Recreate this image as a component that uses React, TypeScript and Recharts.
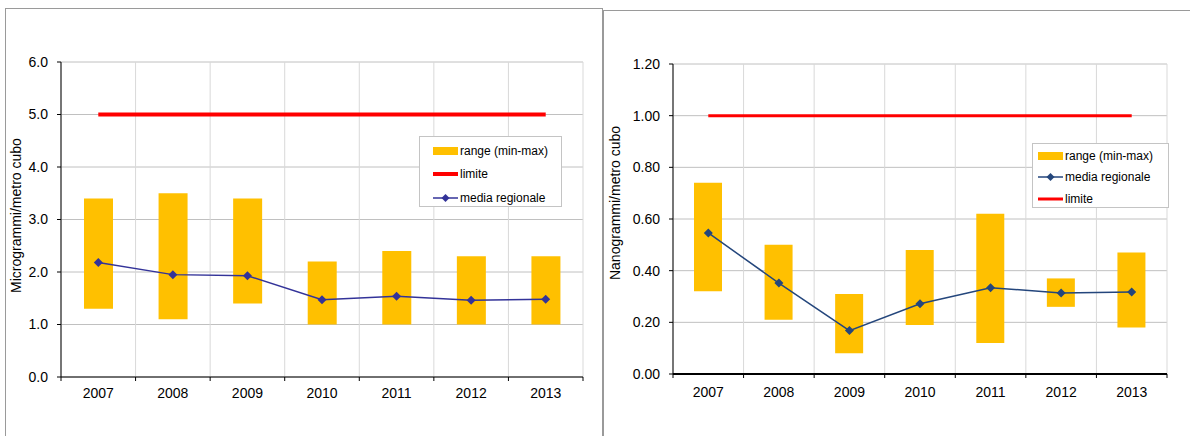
import React from "react";
import { ComposedChart, Bar, Line, XAxis, YAxis, CartesianGrid, Legend } from "recharts";

const years = ["2007", "2008", "2009", "2010", "2011", "2012", "2013"];

// left chart: microgrammi
const microMin = [1.3, 1.1, 1.4, 1.0, 1.0, 1.0, 1.0];
const microMax = [3.4, 3.5, 3.4, 2.2, 2.4, 2.3, 2.3];
const microMedia = [2.18, 1.95, 1.93, 1.47, 1.54, 1.46, 1.48];
const microLimite = 5.0;
const microTicks = [0, 1, 2, 3, 4, 5, 6];

// right chart: nanogrammi
const nanoMin = [0.32, 0.21, 0.08, 0.19, 0.12, 0.26, 0.18];
const nanoMax = [0.74, 0.5, 0.31, 0.48, 0.62, 0.37, 0.47];
const nanoMedia = [0.546, 0.352, 0.168, 0.272, 0.334, 0.314, 0.317];
const nanoLimite = 1.0;
const nanoTicks = [0, 0.2, 0.4, 0.6, 0.8, 1.0, 1.2];

const GOLD = "#FFC000";
const RED = "#FF0000";
const FONT = "'Liberation Sans', Arial, sans-serif";

const buildRows = (min: number[], max: number[], media: number[], limite: number) =>
  years.map((year, i) => ({ year, range: [min[i], max[i]], media: media[i], limite }));

const Diamond = ({ cx, cy, fill, r = 4.5 }: any) =>
  cx == null || cy == null ? null : (
    <polygon points={`${cx},${cy - r} ${cx + r},${cy} ${cx},${cy + r} ${cx - r},${cy}`} fill={fill} />
  );

// category label plus tick marks on the category boundaries (Excel style)
const YearTick = ({ x, y, payload, index, width, margin }: any) => {
  const half = payload.offset ?? width / years.length / 2;
  const axisY = y - margin;
  const left = payload.coordinate - half;
  const right = payload.coordinate + half;
  return (
    <g>
      <line x1={left} x2={left} y1={axisY} y2={axisY + 4} stroke="#000" />
      {index === years.length - 1 && <line x1={right} x2={right} y1={axisY} y2={axisY + 4} stroke="#000" />}
      <text x={x} y={y} dy="0.71em" textAnchor="middle" fontSize={14} fontFamily={FONT} fill="#000">
        {payload.value}
      </text>
    </g>
  );
};

const Swatch = ({ kind, color, thick }: any) => (
  <svg width={26} height={12} style={{ display: "block", flex: "none" }}>
    {kind === "bar" && <rect x={0} y={2} width={25} height={8} fill={GOLD} />}
    {kind === "limit" && <line x1={0} x2={25} y1={6} y2={6} stroke={RED} strokeWidth={thick} />}
    {kind === "media" && (
      <g>
        <line x1={0} x2={25} y1={6} y2={6} stroke={color} strokeWidth={1.5} />
        <Diamond cx={12.5} cy={6} r={4} fill={color} />
      </g>
    )}
  </svg>
);

const LegendBox = ({ items, width, height, padL, padT, rowH, gap }: any) => (
  <div
    style={{
      width,
      height,
      boxSizing: "border-box",
      border: "1px solid #c4c4c4",
      background: "#fff",
      paddingLeft: padL,
      paddingTop: padT,
      fontFamily: FONT,
      fontSize: 12,
      color: "#000",
    }}
  >
    {items.map((it: any) => (
      <div key={it.label} style={{ display: "flex", alignItems: "center", height: rowH }}>
        <Swatch {...it} />
        <span style={{ marginLeft: gap }}>{it.label}</span>
      </div>
    ))}
  </div>
);

function PanelChart({ rows, ticks, domain, digits, unit, width, margin, yWidth, barSize, mediaColor, limitWidth, xAxisWidth, labelX, labelShift, tickMarginX, legend }: any) {
  return (
    <ComposedChart width={width} height={436} data={rows} margin={margin}>
      <CartesianGrid vertical={false} stroke="#c0c0c0" />
      <CartesianGrid
        horizontal={false}
        stroke="#d9d9d9"
        verticalCoordinatesGenerator={({ offset }: any) =>
          [...years.map((_, i) => i), years.length].map((i) => offset.left + (i * offset.width) / years.length)
        }
      />
      <XAxis
        dataKey="year"
        height={1}
        tickLine={false}
        axisLine={{ stroke: "#000", strokeWidth: xAxisWidth }}
        tick={(p: any) => <YearTick key={p.index} {...p} margin={tickMarginX} />}
        tickSize={0}
        tickMargin={tickMarginX}
        interval={0}
      />
      <YAxis
        width={yWidth}
        domain={domain}
        ticks={ticks}
        interval={0}
        tickFormatter={(v: number) => v.toFixed(digits)}
        axisLine={{ stroke: "#000" }}
        tickLine={{ stroke: "#000" }}
        tickSize={4}
        tickMargin={9}
        tick={{ fill: "#000", fontSize: 14, fontFamily: FONT }}
        label={{
          content: (p: any) => {
            const vb = p.viewBox;
            const x = vb.x + labelX;
            const y = vb.y + vb.height / 2 + labelShift;
            return (
              <text
                x={x}
                y={y}
                transform={`rotate(-90 ${x} ${y})`}
                textAnchor="middle"
                dominantBaseline="central"
                fontSize={14}
                fontFamily={FONT}
                fill="#000"
              >
                {unit}
              </text>
            );
          },
        }}
      />
      <Legend
        layout="vertical"
        align="center"
        verticalAlign="middle"
        wrapperStyle={{ left: legend.left, top: legend.top, width: legend.width }}
        content={() => <LegendBox {...legend} />}
      />
      <Bar dataKey="range" fill={GOLD} barSize={barSize} isAnimationActive={false} />
      <Line dataKey="limite" stroke={RED} strokeWidth={limitWidth} dot={false} activeDot={false} isAnimationActive={false} />
      <Line
        dataKey="media"
        stroke={mediaColor}
        strokeWidth={1.5}
        dot={(p: any) => <Diamond key={p.index} cx={p.cx} cy={p.cy} fill={mediaColor} />}
        activeDot={false}
        isAnimationActive={false}
      />
    </ComposedChart>
  );
}

export default function App() {
  const microRows = buildRows(microMin, microMax, microMedia, microLimite);
  const nanoRows = buildRows(nanoMin, nanoMax, nanoMedia, nanoLimite);
  const leftMedia = "#333399";
  const rightMedia = "#24467c";

  return (
    <div style={{ position: "absolute", left: 0, top: 0, width: 1190, height: 436, background: "#fff", overflow: "hidden", fontFamily: FONT }}>
      <div style={{ position: "absolute", left: 5, top: 8, width: 596, height: 460, border: "1px solid #9a9a9a" }} />
      <div style={{ position: "absolute", left: 603, top: 10, width: 620, height: 460, border: "1px solid #9a9a9a" }} />

      <div style={{ position: "absolute", left: 0, top: 0 }}>
        <PanelChart
          rows={microRows}
          ticks={microTicks}
          domain={[0, 6]}
          digits={1}
          unit="Microgrammi/metro cubo"
          width={600}
          margin={{ top: 62, right: 17, bottom: 58, left: 0 }}
          yWidth={61}
          barSize={29}
          mediaColor={leftMedia}
          limitWidth={4}
          xAxisWidth={1}
          labelX={16}
          labelShift={-4}
          tickMarginX={11}
          legend={{
            left: 419,
            top: 136,
            width: 143,
            height: 71,
            padL: 13,
            padT: 2,
            rowH: 23.5,
            gap: 1,
            items: [
              { kind: "bar", label: "range (min-max)" },
              { kind: "limit", label: "limite", thick: 4 },
              { kind: "media", label: "media regionale", color: leftMedia },
            ],
          }}
        />
      </div>

      <div style={{ position: "absolute", left: 600, top: 0 }}>
        <PanelChart
          rows={nanoRows}
          ticks={nanoTicks}
          domain={[0, 1.2]}
          digits={2}
          unit="Nanogrammi/metro cubo"
          width={590}
          margin={{ top: 64, right: 23, bottom: 61, left: 0 }}
          yWidth={73}
          barSize={28}
          mediaColor={rightMedia}
          limitWidth={3}
          xAxisWidth={2}
          labelX={15}
          labelShift={-16}
          tickMarginX={13}
          legend={{
            left: 432,
            top: 143,
            width: 137,
            height: 65,
            padL: 5,
            padT: 1,
            rowH: 21.5,
            gap: 1,
            items: [
              { kind: "bar", label: "range (min-max)" },
              { kind: "media", label: "media regionale", color: rightMedia },
              { kind: "limit", label: "limite", thick: 3 },
            ],
          }}
        />
      </div>
    </div>
  );
}
